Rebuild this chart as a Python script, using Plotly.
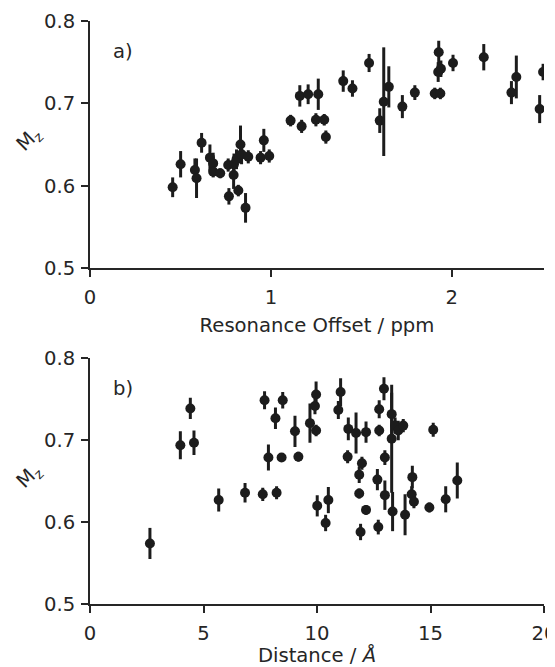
import plotly.graph_objects as go
from plotly.subplots import make_subplots

# ---- panel a) : resonance offset (ppm) ----
offset_ppm = [0.457, 0.501, 0.580, 0.589, 0.617, 0.663, 0.681, 0.681, 0.720, 0.764,
              0.768, 0.794, 0.796, 0.810, 0.820, 0.832, 0.838, 0.875, 0.860, 0.961,
              0.943, 0.991, 1.109, 1.170, 1.160, 1.206, 1.262, 1.249, 1.295, 1.304,
              1.400, 1.451, 1.543, 1.602, 1.624, 1.652, 1.727, 1.796, 1.906, 1.937,
              1.928, 1.925, 1.940, 2.007, 2.177, 2.330, 2.357, 2.505, 2.486]
mz_a = [0.598, 0.626, 0.619, 0.609, 0.652, 0.634, 0.627, 0.617, 0.615, 0.625,
        0.587, 0.613, 0.626, 0.632, 0.594, 0.650, 0.638, 0.635, 0.573, 0.655,
        0.634, 0.636, 0.679, 0.672, 0.709, 0.711, 0.711, 0.680, 0.680, 0.659,
        0.727, 0.718, 0.749, 0.679, 0.702, 0.720, 0.696, 0.713, 0.712, 0.712,
        0.762, 0.738, 0.742, 0.749, 0.756, 0.713, 0.732, 0.738, 0.693]
err_a = [0.012, 0.016, 0.014, 0.024, 0.012, 0.016, 0.013, 0.007, 0.006, 0.008,
         0.010, 0.017, 0.013, 0.012, 0.007, 0.023, 0.012, 0.008, 0.018, 0.014,
         0.008, 0.008, 0.007, 0.008, 0.013, 0.012, 0.019, 0.008, 0.007, 0.008,
         0.013, 0.010, 0.011, 0.015, 0.066, 0.025, 0.014, 0.009, 0.007, 0.007,
         0.014, 0.012, 0.010, 0.010, 0.016, 0.014, 0.026, 0.010, 0.017]

# ---- panel b) : distance (Angstrom) ----
distance_A = [2.64, 3.98, 4.42, 4.58, 5.67, 6.83, 7.61, 7.69, 7.86, 8.17,
              8.22, 8.49, 8.44, 9.03, 9.18, 9.69, 9.96, 9.91, 9.96, 10.01,
              10.38, 10.50, 10.94, 11.04, 11.38, 11.35, 11.72, 12.16, 11.86, 11.98,
              11.86, 12.16, 11.92, 12.66, 12.70, 12.74, 12.74, 12.95, 12.99, 12.99,
              13.29, 13.29, 13.33, 13.88, 13.44, 13.58, 13.80, 14.20, 14.17, 14.27,
              14.95, 15.12, 15.67, 16.18]
mz_b = [0.574, 0.694, 0.739, 0.697, 0.627, 0.636, 0.634, 0.749, 0.679, 0.727,
        0.636, 0.749, 0.679, 0.711, 0.680, 0.721, 0.756, 0.742, 0.712, 0.620,
        0.599, 0.627, 0.737, 0.759, 0.714, 0.680, 0.709, 0.710, 0.658, 0.672,
        0.635, 0.615, 0.588, 0.652, 0.594, 0.738, 0.712, 0.763, 0.679, 0.633,
        0.732, 0.702, 0.613, 0.609, 0.718, 0.712, 0.718, 0.655, 0.634, 0.625,
        0.618, 0.713, 0.628, 0.651]
err_b = [0.019, 0.017, 0.013, 0.015, 0.014, 0.012, 0.008, 0.011, 0.016, 0.013,
         0.008, 0.010, 0.005, 0.019, 0.006, 0.024, 0.016, 0.010, 0.007, 0.013,
         0.010, 0.016, 0.011, 0.017, 0.014, 0.008, 0.025, 0.013, 0.010, 0.008,
         0.006, 0.006, 0.010, 0.013, 0.009, 0.011, 0.007, 0.014, 0.009, 0.018,
         0.026, 0.066, 0.024, 0.025, 0.010, 0.012, 0.008, 0.014, 0.010, 0.008,
         0.006, 0.0085, 0.016, 0.022]

y_ticks = [0.5, 0.6, 0.7, 0.8]
x_ticks_a = [0, 1, 2]
x_ticks_b = [0, 5, 10, 15, 20]

INK = "#1c1c1c"
AX = "#262626"
FONT = "DejaVu Sans"
FS = 19.6

fig = make_subplots(rows=2, cols=1)

for (xs, ys, es, r) in [(offset_ppm, mz_a, err_a, 1), (distance_A, mz_b, err_b, 2)]:
    fig.add_trace(go.Scatter(
        x=xs, y=ys, mode="markers",
        marker=dict(size=10, color=INK),
        error_y=dict(type="data", array=es, visible=True, thickness=3, width=0, color=INK),
        showlegend=False,
    ), row=r, col=1)

axis_common = dict(
    showgrid=False, zeroline=False, showline=True, linecolor=AX, linewidth=1.8,
    ticks="outside", ticklen=7, tickwidth=1.6, tickcolor=AX, automargin=False,
    ticklabeloverflow="allow",
    tickfont=dict(family=FONT, size=FS, color=AX),
)

fig.update_xaxes(**axis_common, ticklabelstandoff=4)
fig.update_yaxes(**axis_common, ticklabelstandoff=2)

title_font = dict(family=FONT, size=FS, color=AX)

# page body has an 8px margin: figure is sized so the picture fills 555x667
fig.update_layout(
    xaxis=dict(range=[0, 2.51], tickvals=x_ticks_a, domain=[0, 1],
               title=dict(text="Resonance Offset / ppm", font=title_font, standoff=10)),
    yaxis=dict(range=[0.5, 0.8], tickvals=y_ticks, ticktext=[f"{v:.1f}" for v in y_ticks],
               domain=[0.5764, 1.0]),
    xaxis2=dict(range=[0, 20.0001], tickvals=x_ticks_b, domain=[0, 1],
                title=dict(text="Distance / <i>Å</i>", font=title_font, standoff=11)),
    yaxis2=dict(range=[0.5, 0.8], tickvals=y_ticks, ticktext=[f"{v:.1f}" for v in y_ticks],
                domain=[0.0, 0.4211]),
    width=547, height=659,
    margin=dict(l=82, r=11, t=12.7, b=63),
    plot_bgcolor="white", paper_bgcolor="white",
    font=dict(family=FONT, color=AX),
)

for yref in ["y domain", "y2 domain"]:
    fig.add_annotation(text="M<sub>z</sub>", xref="paper", yref=yref, x=-0.134, y=0.52,
                       xanchor="center", yanchor="middle",
                       showarrow=False, textangle=-45,
                       font=dict(family=FONT, size=FS, color=AX))

fig.add_annotation(text="a)", xref="x domain", yref="y domain", x=0.047, y=0.875,
                   xanchor="left", yanchor="middle", showarrow=False,
                   font=dict(family=FONT, size=FS, color=AX))
fig.add_annotation(text="b)", xref="x2 domain", yref="y2 domain", x=0.047, y=0.877,
                   xanchor="left", yanchor="middle", showarrow=False,
                   font=dict(family=FONT, size=FS, color=AX))

fig.write_html("out.html")
